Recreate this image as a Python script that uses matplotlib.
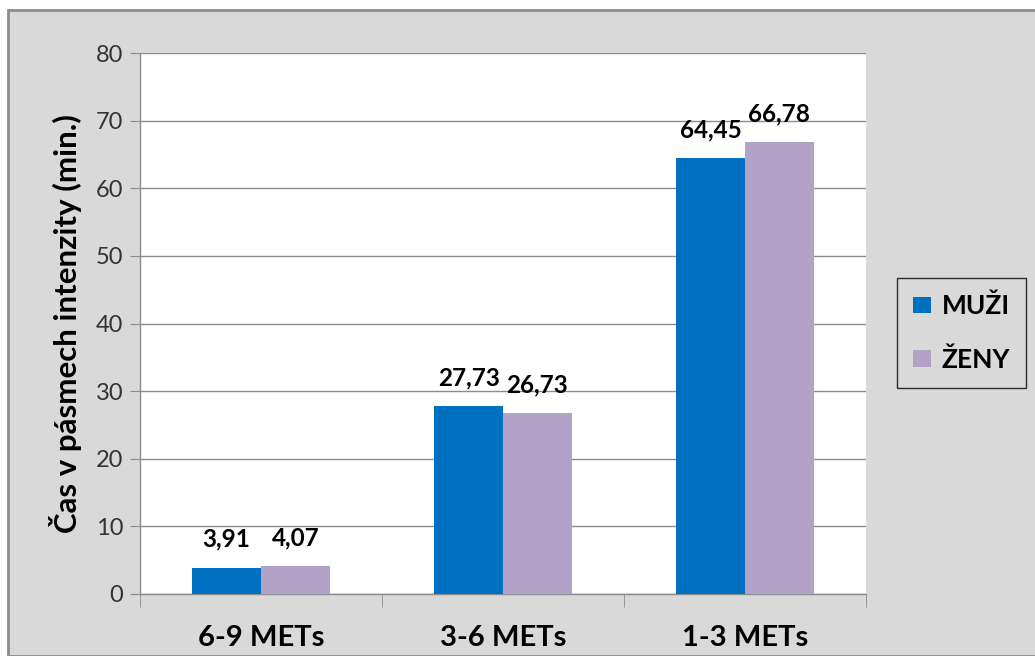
import matplotlib
matplotlib.use("Agg")
import matplotlib.pyplot as plt
from matplotlib.patches import Rectangle, Patch
import numpy as np

categories = ["6-9 METs", "3-6 METs", "1-3 METs"]
muzi = [3.91, 27.73, 64.45]
zeny = [4.07, 26.73, 66.78]
series_names = ["MUŽI", "ŽENY"]
colors = ["#0070C0", "#B3A2C7"]
ylabel = "Čas v pásmech intenzity (min.)"

plt.rcParams['font.family'] = ['Lato', 'DejaVu Sans']

W, H = 1035, 656
fig = plt.figure(figsize=(W / 100, H / 100), dpi=100, facecolor="white")

# chart area background
bg = Rectangle((8 / W, 0), 1.2, 1 - 10 / H, transform=fig.transFigure,
               facecolor="#D9D9D9", edgecolor="#8C8C8C", linewidth=2, zorder=-10)
fig.patches.append(bg)

ax = fig.add_axes([140 / W, (656 - 594) / H, (866 - 140) / W, (594 - 53) / H])
ax.set_facecolor("white")

x = np.arange(len(categories))
bw = 0.284
b1 = ax.bar(x - bw / 2, muzi, bw, color=colors[0], label=series_names[0], zorder=3)
b2 = ax.bar(x + bw / 2, zeny, bw, color=colors[1], label=series_names[1], zorder=3)

def fmt(v):
    return f"{v:.2f}".replace(".", ",")

for bars, vals in ((b1, muzi), (b2, zeny)):
    for r, v in zip(bars, vals):
        ax.annotate(fmt(v), (r.get_x() + r.get_width() / 2, v), xytext=(0, 15),
                    textcoords="offset points", ha="center", va="baseline",
                    fontsize=17.5, fontweight="bold", color="black")

ax.set_xlim(-0.5, len(categories) - 0.5)
ax.set_ylim(0, 80)
ax.set_yticks(np.arange(0, 81, 10))
ax.yaxis.grid(True, color="#8C8C8C", linewidth=1, zorder=0)
ax.set_axisbelow(True)
ax.tick_params(axis="y", length=7, color="#8C8C8C", labelsize=17, pad=5)
for t in ax.get_yticklabels():
    t.set_color("#333333")

ax.set_xticks(x)
ax.set_xticklabels(categories, fontsize=21, fontweight="bold")
ax.set_xticks(np.arange(-0.5, len(categories), 1.0), minor=True)
ax.tick_params(axis="x", which="major", length=0, pad=22)
ax.tick_params(axis="x", which="minor", length=9, color="#8C8C8C")

for s in ("top", "right"):
    ax.spines[s].set_visible(False)
for s in ("left", "bottom"):
    ax.spines[s].set_color("#8C8C8C")
    ax.spines[s].set_linewidth(1)

ax.set_ylabel(ylabel, fontsize=22.5, fontweight="bold", labelpad=10)

handles = [Patch(facecolor=c, label=n) for c, n in zip(colors, series_names)]
leg = fig.legend(handles=handles, loc="upper left", bbox_to_anchor=(897 / W, 1 - 278 / H),
                 frameon=True, fancybox=False, facecolor="#D9D9D9", edgecolor="black",
                 prop={"size": 19, "weight": "bold"}, handlelength=0.7, handleheight=0.6,
                 handletextpad=0.4, labelspacing=1.1, borderpad=0.6, borderaxespad=0)
leg.get_frame().set_linewidth(1)

fig.savefig("out.png", dpi=100, facecolor="white")
